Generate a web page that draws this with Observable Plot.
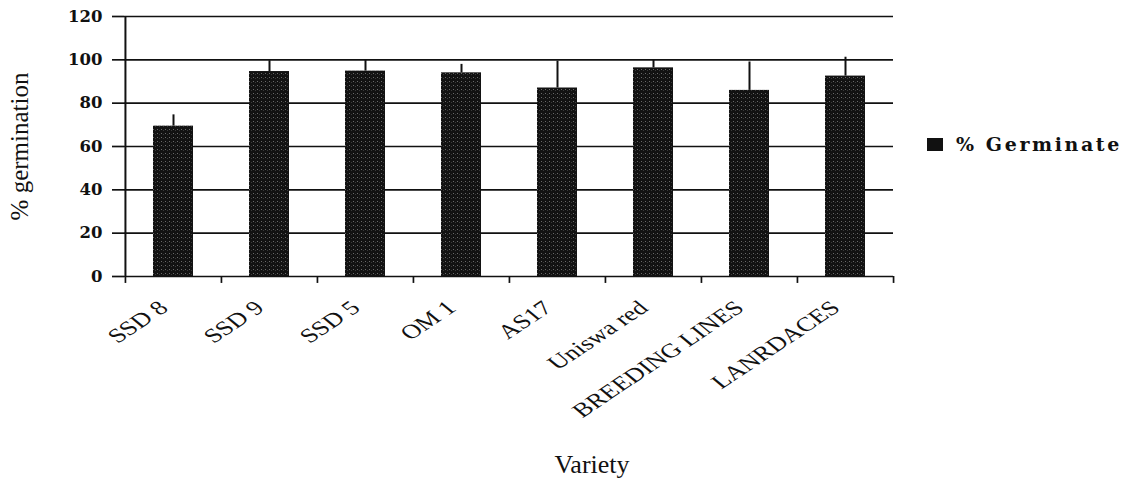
<!DOCTYPE html>
<html>
<head>
<meta charset="utf-8">
<script src="https://cdn.jsdelivr.net/npm/d3@7"></script>
<script src="https://cdn.jsdelivr.net/npm/@observablehq/plot@0.6"></script>
<style>
  html, body { margin: 0; padding: 0; background: #fff; }
  #wrap { position: relative; width: 1129px; height: 479px; }
  #legend { position: absolute; left: 927px; top: 133px; display: flex; align-items: center;
            font-family: "DejaVu Serif", serif; font-size: 19px; font-weight: bold; letter-spacing: 2.6px; color: #111; }
  #legend .sw { width: 16px; height: 13px; background: #111; margin-right: 13px; }
</style>
</head>
<body>
<div id="wrap"></div>
<script>
const varieties = ["SSD 8", "SSD 9", "SSD 5", "OM 1", "AS17", "Uniswa red", "BREEDING LINES", "LANRDACES"];
const germination = [69.4, 94.6, 94.8, 94.0, 87.0, 96.3, 85.9, 92.5];
const errors = [5.2, 5.0, 5.2, 3.9, 12.4, 3.4, 13.1, 8.7];
const yTicks = [0, 20, 40, 60, 80, 100, 120];
const seriesName = "% Germinate";
const xTitle = "Variety";
const yTitle = "% germination";

const data = varieties.map((v, i) => ({variety: v, value: germination[i], err: errors[i]}));

const W = 1129, H = 479, mL = 124, mR = 236, mT = 16, mB = 203;
const step = (W - mL - mR) / varieties.length;

const plot = Plot.plot({
  width: W, height: H,
  marginLeft: mL, marginRight: mR, marginTop: mT, marginBottom: mB,
  style: {background: "white", color: "#111"},
  x: {type: "band", domain: varieties, padding: 0, label: null, axis: null},
  y: {domain: [0, 120], label: null},
  marks: [
    Plot.ruleY(yTicks, {stroke: "#111", strokeWidth: 1.7}),
    Plot.rectY(data, {x: "variety", y: "value", fill: "url(#speckle)", insetLeft: 28, insetRight: 28}),
    Plot.ruleX(data, {x: "variety", y1: "value", y2: d => d.value + d.err, stroke: "#111", strokeWidth: 2}),
    // vertical axis line at the left edge of the first band
    Plot.ruleX([varieties[0]], {x: d => d, y1: 0, y2: 120, dx: -step / 2, stroke: "#111", strokeWidth: 2}),
    // x tick marks at band boundaries
    Plot.ruleX(varieties, {x: d => d, y1: 0, y2: -3.2, dx: -step / 2, stroke: "#111", strokeWidth: 1.7}),
    Plot.ruleX([varieties[varieties.length - 1]], {x: d => d, y1: 0, y2: -3.2, dx: step / 2, stroke: "#111", strokeWidth: 1.7}),
    Plot.axisY({ticks: yTicks, tickSize: 12, tickPadding: 10, strokeWidth: 1.7,
      fontSize: 16.5, fontFamily: "DejaVu Serif", fontWeight: "bold",
      label: yTitle, labelAnchor: "center", labelArrow: "none", labelOffset: 114}),
    // rotated category labels
    Plot.text(varieties, {x: d => d, text: d => d, frameAnchor: "bottom", dx: -4, dy: 33,
      rotate: -42, textAnchor: "end", lineAnchor: "bottom", fontSize: 20,
      fontFamily: "Liberation Serif", fill: "#111", ariaDescription: "category labels"}),
    // x axis title
    Plot.text([xTitle], {text: d => d, frameAnchor: "bottom", dx: 83, dy: 196, lineAnchor: "bottom",
      fontSize: 26, fontFamily: "Liberation Serif", fill: "#111"})
  ]
});

// speckled dark fill pattern for bars
const defs = d3.select(plot).insert("defs", ":first-child");
const pat = defs.append("pattern").attr("id", "speckle").attr("patternUnits", "userSpaceOnUse")
  .attr("width", 4).attr("height", 4);
pat.append("rect").attr("width", 4).attr("height", 4).attr("fill", "#121212");
pat.append("rect").attr("x", 1).attr("y", 1).attr("width", 1).attr("height", 1).attr("fill", "#6a6a6a");
pat.append("rect").attr("x", 3).attr("y", 2).attr("width", 1).attr("height", 1).attr("fill", "#3a3a3a");

// widen the rotated category labels horizontally, like the reference
d3.select(plot).selectAll('g[aria-description="category labels"] text').each(function () {
  const t = this.getAttribute("transform") || "";
  if (t.includes("rotate")) this.setAttribute("transform", t.replace("rotate", "scale(1.35,1) rotate"));
});

// y axis title font
d3.select(plot).selectAll('g[aria-label="y-axis label"] text')
  .attr("font-family", "Liberation Serif").attr("font-size", 25).attr("font-weight", "normal");

const wrap = document.getElementById("wrap");
wrap.appendChild(plot);
const leg = document.createElement("div");
leg.id = "legend";
leg.innerHTML = `<span class="sw"></span><span>${seriesName}</span>`;
wrap.appendChild(leg);
</script>
</body>
</html>
